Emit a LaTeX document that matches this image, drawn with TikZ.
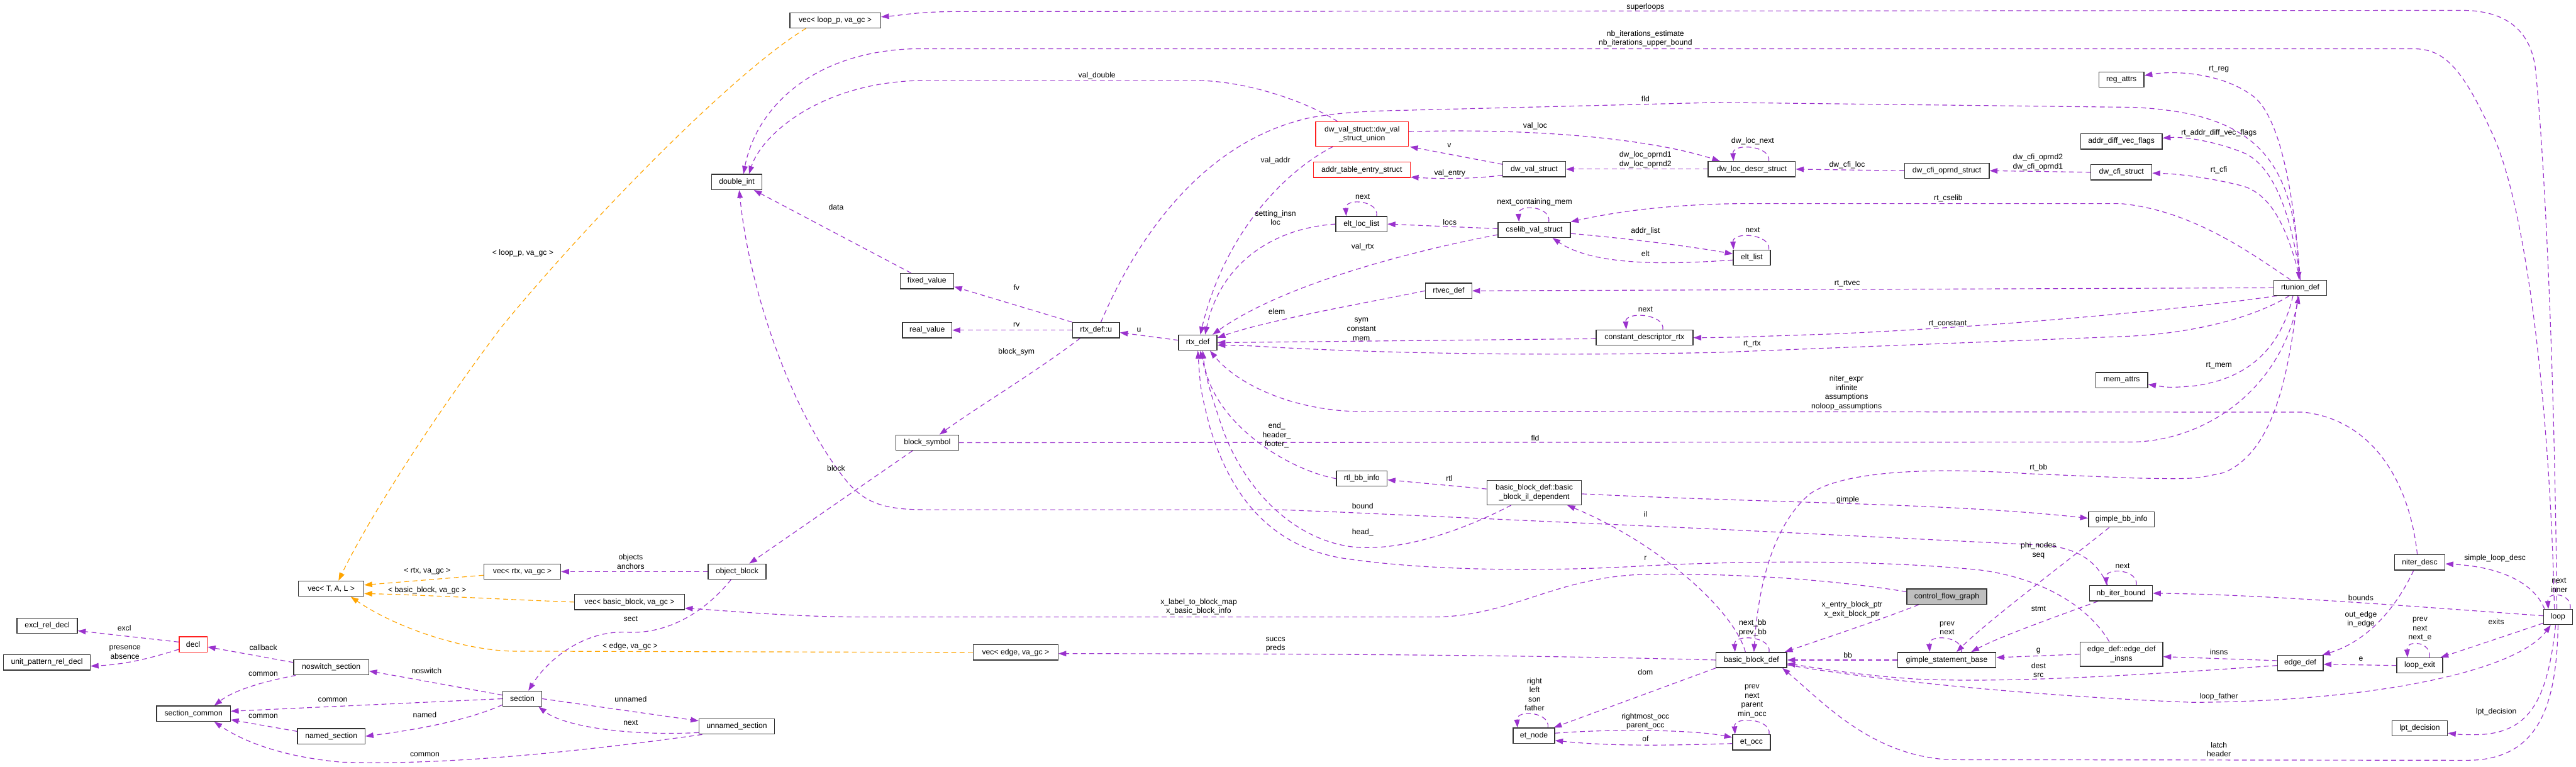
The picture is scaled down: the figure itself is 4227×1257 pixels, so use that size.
\documentclass[tikz,border=0pt]{standalone}
\usepackage{fontspec}
\setmainfont{Liberation Sans}
\usetikzlibrary{arrows.meta}
\pgfdeclarelayer{bg}
\pgfsetlayers{bg,main}
\definecolor{purp}{HTML}{9A32CD}
\definecolor{orng}{HTML}{FFA500}
\definecolor{redb}{HTML}{FF2020}
\definecolor{gfill}{HTML}{BFBFBF}
\definecolor{bord}{HTML}{333333}
\begin{document}
\begin{tikzpicture}[x=0.5pt,y=-0.5pt,
  cls/.style={draw=bord, line width=0.7pt, fill=white, inner sep=1pt, minimum height=12.5pt, font=\fontsize{6.3}{7.5}\selectfont, align=center},
  cls2/.style={cls, minimum height=20pt},
  redcls/.style={cls, draw=redb},
  lbl/.style={inner sep=0pt, font=\fontsize{6.3}{7.5}\selectfont, align=center},
  ed/.style={draw=purp, line width=0.6pt, dash pattern=on 4pt off 2.8pt, -{Triangle[length=6.5pt,width=4.5pt]}},
  eo/.style={ed, draw=orng},
]
\useasboundingbox (0,0) rectangle (4227,1257);
% ---------------- classes ----------------
\node[cls, minimum width=74.5pt] (vecloop) at (1370.5,33.5) {vec< loop\_p, va\_gc >};
\node[cls, minimum width=41pt] (dint) at (1209,298.5) {double\_int};
\node[cls, minimum width=44pt] (fixedv) at (1521,461) {fixed\_value};
\node[cls, minimum width=40.5pt] (realv) at (1521.5,541.5) {real\_value};
\node[cls, minimum width=38.5pt] (rtxu) at (1798.5,541.5) {rtx\_def::u};
\node[cls, minimum width=31.5pt] (rtx) at (1965.5,562) {rtx\_def};
\node[redcls, minimum width=76pt, minimum height=20pt] (uni) at (2235,220) {dw\_val\_struct::dw\_val\\\_struct\_union};
\node[redcls, minimum width=79.5pt] (addrtab) at (2234.5,278.5) {addr\_table\_entry\_struct};
\node[cls, minimum width=51.5pt] (dwval) at (2517.5,277.5) {dw\_val\_struct};
\node[cls, minimum width=71.5pt] (dwloc) at (2874.5,277.5) {dw\_loc\_descr\_struct};
\node[cls, minimum width=42pt] (eltloc) at (2234,367.5) {elt\_loc\_list};
\node[cls, minimum width=59.5pt] (cselib) at (2517.5,377) {cselib\_val\_struct};
\node[cls, minimum width=38pt] (rtvec) at (2377,477) {rtvec\_def};
\node[cls, minimum width=79.5pt] (cdrtx) at (2698.5,553.5) {constant\_descriptor\_rtx};
\node[cls, minimum width=37pt] (regattrs) at (3481,130.5) {reg\_attrs};
\node[cls, minimum width=67pt] (adv) at (3481,232) {addr\_diff\_vec\_flags};
\node[cls, minimum width=69.5pt] (cfiop) at (3194.5,280) {dw\_cfi\_oprnd\_struct};
\node[cls, minimum width=50pt] (cfi) at (3481,282.5) {dw\_cfi\_struct};
\node[cls, minimum width=30.5pt] (eltlist) at (2874.5,422.5) {elt\_list};
\node[cls, minimum width=42.5pt] (memattrs) at (3481.5,623.5) {mem\_attrs};
\node[cls, minimum width=43.5pt] (rtunion) at (3774.5,472) {rtunion\_def};
\node[cls, minimum width=53.5pt] (vecT) at (543.5,965.5) {vec< T, A, L >};
\node[cls, minimum width=49.5pt] (excl) at (77.5,1026.5) {excl\_rel\_decl};
\node[cls, minimum width=71pt] (upr) at (77,1086.5) {unit\_pattern\_rel\_decl};
\node[redcls, minimum width=23pt] (decl) at (317,1057) {decl};
\node[cls, minimum width=61.5pt] (noswitch) at (543.5,1094.5) {noswitch\_section};
\node[cls, minimum width=60.5pt] (seccommon) at (317.5,1170.5) {section\_common};
\node[cls, minimum width=55.5pt] (named) at (543.5,1207.5) {named\_section};
\node[cls, minimum width=63pt] (vecrtx) at (857,937.5) {vec< rtx, va\_gc >};
\node[cls, minimum width=47.5pt] (objblock) at (1209.5,937.5) {object\_block};
\node[cls, minimum width=90pt] (vecbb) at (1033,987.5) {vec< basic\_block, va\_gc >};
\node[cls, minimum width=32pt] (sect) at (857,1146) {section};
\node[cls, minimum width=62pt] (unnamed) at (1209,1191.5) {unnamed\_section};
\node[cls, minimum width=51.5pt] (blocksym) at (1521.5,726) {block\_symbol};
\node[cls, minimum width=69.5pt] (vecedge) at (1666.5,1070) {vec< edge, va\_gc >};
\node[cls, minimum width=41.5pt] (rtlbb) at (2234.5,785) {rtl\_bb\_info};
\node[cls2, minimum width=77.5pt] (bbil) at (2517.5,808) {basic\_block\_def::basic\\\_block\_il\_dependent};
\node[cls, minimum width=34pt] (etnode) at (2517,1206.5) {et\_node};
\node[cls, minimum width=65.5pt, fill=gfill] (cfg) at (3194.5,978.5) {control\_flow\_graph};
\node[cls, minimum width=58pt] (bb) at (2874,1082.5) {basic\_block\_def};
\node[cls, minimum width=80.5pt] (gsb) at (3194.5,1082.5) {gimple\_statement\_base};
\node[cls, minimum width=54pt] (gbbinfo) at (3481,852) {gimple\_bb\_info};
\node[cls, minimum width=51.5pt] (nbiter) at (3480.5,973) {nb\_iter\_bound};
\node[cls2, minimum width=68pt] (edgeins) at (3481,1073) {edge\_def::edge\_def\\\_insns};
\node[cls, minimum width=31pt] (etocc) at (2874,1217.5) {et\_occ};
\node[cls, minimum width=41.5pt] (niter) at (3970.5,922.5) {niter\_desc};
\node[cls, minimum width=23.5pt] (lp) at (4197.5,1012) {loop};
\node[cls, minimum width=37.5pt] (edgedef) at (3774.5,1087.5) {edge\_def};
\node[cls, minimum width=37.5pt] (loopexit) at (3970.5,1091.5) {loop\_exit};
\node[cls, minimum width=45.5pt] (lpt) at (3970.5,1194.5) {lpt\_decision};
% ---------------- connectors ----------------
\begin{pgfonlayer}{bg}
\fill[white] (0,0) rectangle (4227,1257);
% orange template edges
\draw[eo] ([xshift=-24pt]vecloop.south) .. controls (1200,120) and (950,380) .. (820,540) .. controls (700,700) and (600,860) .. ([xshift=6pt]vecT.north);
\draw[eo] ([yshift=-3pt]vecrtx.west) -- ([yshift=3pt]vecT.east);
\draw[eo] (vecbb.west) .. controls (800,982) and (700,976) .. ([yshift=-4pt]vecT.east);
\draw[eo] (vecedge.west) -- (840,1068) .. controls (760,1066) and (650,1030) .. ([xshift=16pt]vecT.south);
% loop top edges
\draw[ed] ([xshift=-1pt]lp.north) .. controls (4192,600) and (4175,250) .. (4160,110) .. controls (4150,40) and (4100,17) .. (4040,17) -- (1560,19) .. controls (1500,20) and (1480,25) .. (vecloop);
\draw[ed] ([xshift=-3pt]lp.north) .. controls (4185,700) and (4150,350) .. (4090,220) .. controls (4040,110) and (4010,80) .. (3960,80) -- (1500,80) .. controls (1330,85) and (1240,180) .. ([xshift=5.5pt]dint.north);
% double_int
\draw[ed] ([xshift=-20pt]uni.north) .. controls (2150,170) and (2050,132) .. (1960,132) -- (1520,132) .. controls (1350,132) and (1250,220) .. ([xshift=10pt]dint.north);
\draw[ed] ([xshift=-13pt]fixedv.north) -- ([xshift=14pt]dint.south);
\draw[ed] ([xshift=-11pt]nbiter.north) .. controls (3440,920) and (3410,898) .. (3350,894) -- (2820,868) -- (2200,840) .. controls (2150,837) .. (2100,836) -- (1520,836) .. controls (1450,836) and (1420,825) .. (1390,790) .. controls (1300,680) and (1230,480) .. ([xshift=2pt]dint.south);
% block symbol / object block
\draw[ed] ([xshift=-12pt]blocksym.south) -- ([xshift=10pt]objblock.north);
\draw[ed] (blocksym.east) -- (3500,725) .. controls (3620,722) and (3740,640) .. ([xshift=-1pt]rtunion.south);
\draw[ed] ([xshift=4pt]rtxu.north) .. controls (1870,380) and (1980,230) .. (2150,193) .. controls (2200,184) and (2250,182) .. (2300,181) -- (2820,168) -- (3500,176) .. controls (3700,185) and (3765,260) .. ([xshift=-1pt]rtunion.north);
% rtunion_def members
\draw[ed] (rtunion.north) .. controls (3765,330) and (3745,200) .. (3700,160) .. controls (3650,120) and (3570,115) .. (regattrs);
\draw[ed] (rtunion.north) .. controls (3760,350) and (3730,270) .. (3680,250) .. controls (3630,230) and (3580,224) .. (adv);
\draw[ed] (rtunion.north) .. controls (3755,380) and (3730,320) .. (3680,305) .. controls (3620,290) and (3570,285) .. (cfi);
\draw[ed] ([xshift=-8pt]rtunion.north) .. controls (3700,420) and (3600,345) .. (3480,334) -- (2850,334) .. controls (2720,336) and (2640,350) .. (cselib);
\draw[ed] (rtunion.west) -- (rtvec.east);
\draw[ed] ([xshift=3pt]rtunion.south west) .. controls (3600,505) and (3300,535) .. (3000,548) -- (2850,553) .. controls (2820,554) .. (cdrtx);
\draw[ed] ([xshift=-9pt]rtunion.south) .. controls (3700,520) and (3600,548) .. (3480,552) -- (2820,578) .. controls (2500,585) and (2250,578) .. (2100,570) .. controls (2050,567) .. ([yshift=-2pt]rtx.east);
\draw[ed] ([xshift=-6pt]rtunion.south) .. controls (3745,560) and (3700,620) .. (3600,633) .. controls (3560,636) .. (memattrs);
\draw[ed] ([xshift=-2pt]rtunion.south) .. controls (3755,620) and (3730,740) .. (3650,775) .. controls (3600,786) .. (3500,784) -- (3330,777) .. controls (3150,765) and (3020,775) .. (2970,810) .. controls (2910,860) and (2885,960) .. ([xshift=2pt]bb.north);
% rtx_def and rtx_def::u
\draw[ed] ([yshift=2pt]rtx.west) -- ([yshift=-2pt]rtxu.east);
\draw[ed] (rtxu.north west) -- ([yshift=2pt]fixedv.south east);
\draw[ed] (rtxu.west) -- (realv.east);
\draw[ed] ([xshift=-13pt]rtxu.south) .. controls (1700,610) and (1600,670) .. ([xshift=10pt]blocksym.north);
\draw[ed] (rtvec.west) .. controls (2250,495) and (2080,525) .. ([yshift=4pt]rtx.east);
\draw[ed] ([yshift=-4pt]cselib.west) .. controls (2300,415) and (2100,470) .. ([xshift=-4pt]rtx.north east);
\draw[ed] (eltloc.west) .. controls (2080,375) and (2000,440) .. ([xshift=6pt]rtx.north);
\draw[ed] ([xshift=-24pt]uni.south) .. controls (2110,280) and (2010,380) .. ([xshift=2pt]rtx.north);
\draw[ed] ([yshift=-1pt]cdrtx.west) -- (rtx.east);
\draw[ed] (rtlbb.west) .. controls (2110,770) and (1985,690) .. ([xshift=4pt]rtx.south);
\draw[ed] ([xshift=-19pt]bbil.south) .. controls (2400,870) and (2300,905) .. (2220,897) .. controls (2120,885) and (2040,800) .. (2005,700) .. controls (1985,640) .. ([xshift=2pt]rtx.south);
\draw[ed] ([xshift=-10pt]edgeins.north) .. controls (3430,1000) and (3360,950) .. (3250,935) .. controls (3100,920) and (2900,918) .. (2700,928) .. controls (2550,937) and (2350,938) .. (2200,915) .. controls (2060,890) and (2010,780) .. (1985,700) .. controls (1970,640) .. (rtx.south);
\draw[ed] ([xshift=-2pt]niter.north) .. controls (3955,800) and (3900,690) .. (3780,676) -- (2230,675) .. controls (2120,673) and (2030,630) .. ([xshift=10pt]rtx.south);
% dwarf structures
\draw[ed] ([yshift=4pt]dwval.west) -- ([xshift=1pt]uni.south east);
\draw[ed] ([yshift=-5pt]dwval.west) .. controls (2420,293) and (2370,294) .. ([yshift=-6pt]addrtab.east);
\draw[ed] ([yshift=2pt]uni.east) .. controls (2500,210) and (2700,225) .. ([xshift=10pt]dwloc.north west);
\draw[ed] (dwloc.west) -- (dwval.east);
\draw[ed] (cfiop.west) -- (dwloc.east);
\draw[ed] (cfi.west) -- (cfiop.east);
% cselib
\draw[ed] ([yshift=1pt]cselib.west) -- (eltloc.east);
\draw[ed] ([yshift=-3pt]cselib.east) .. controls (2680,392) and (2780,405) .. ([yshift=3pt]eltlist.west);
\draw[ed] ([yshift=-2pt]eltlist.west) .. controls (2760,432) and (2620,440) .. ([xshift=15pt]cselib.south);
% object block / sections
\draw[ed] (objblock.west) -- (vecrtx.east);
\draw[ed] ([xshift=-5pt]objblock.south) .. controls (1160,1000) and (1100,1040) .. (1030,1037) .. controls (960,1033) and (900,1080) .. ([xshift=5pt]sect.north);
\draw[ed] ([yshift=3pt]sect.west) -- ([yshift=-3pt]noswitch.east);
\draw[ed] (sect.west) -- ([yshift=2pt]seccommon.east);
\draw[ed] ([yshift=-5pt]sect.west) .. controls (760,1185) and (660,1200) .. (named.east);
\draw[ed] (sect.east) -- ([yshift=-2pt]unnamed.north west);
\draw[ed] ([yshift=-5pt]unnamed.west) .. controls (1050,1207) and (930,1195) .. ([xshift=-3pt]sect.south east);
\draw[ed] ([xshift=3pt]unnamed.south west) .. controls (900,1240) and (700,1255) .. (560,1250) .. controls (450,1240) and (390,1210) .. ([xshift=17pt]seccommon.south);
\draw[ed] ([yshift=4pt]noswitch.west) -- ([yshift=-2pt]decl.east);
\draw[ed] ([xshift=2pt]noswitch.south west) .. controls (420,1120) and (380,1135) .. ([xshift=17pt]seccommon.north);
\draw[ed] ([yshift=4pt]named.west) -- ([yshift=-5pt]seccommon.east);
\draw[ed] ([yshift=2pt]decl.west) -- ([yshift=-4pt]excl.east);
\draw[ed] ([yshift=-4pt]decl.west) .. controls (240,1082) and (200,1090) .. ([yshift=-3pt]upr.east);
% basic blocks
\draw[ed] ([xshift=-23pt]cfg.south) .. controls (3090,1015) and (3000,1045) .. ([xshift=-2pt]bb.north east);
\draw[ed] ([yshift=4pt]cfg.west) .. controls (3000,950) and (2850,940) .. (2700,942) .. controls (2550,946) and (2480,1012) .. (2350,1012) -- (1420,1012) .. controls (1300,1012) and (1200,1002) .. ([yshift=-5pt]vecbb.east);
\draw[ed] ([xshift=-5pt]bb.north) .. controls (2845,1000) and (2720,890) .. ([xshift=-12pt]bbil.south east);
\draw[ed] (bb.south west) -- ([xshift=-1pt]etnode.north east);
\draw[ed] (bb.west) .. controls (2500,1074) and (2100,1072) .. ([yshift=-1pt]vecedge.east);
\draw[ed] (gsb.west) -- (bb.east);
\draw[ed] ([yshift=-2pt]edgedef.west) .. controls (3500,1108) and (3300,1120) .. (3150,1114) .. controls (3050,1108) and (2980,1095) .. ([yshift=-3pt]bb.east);
\draw[ed] ([yshift=-4pt]bb.east) .. controls (3100,1120) and (3400,1145) .. (3600,1152) .. controls (3900,1150) and (4130,1100) .. ([xshift=-6pt]lp.south);
\draw[ed] (lp.south) .. controls (4195,1150) and (4170,1246) .. (4050,1247) -- (3200,1246) .. controls (3070,1240) and (2990,1150) .. ([xshift=-4pt]bb.south east);
\draw[ed] ([xshift=-2pt]lp.south) .. controls (4180,1150) and (4150,1205) .. (4060,1205) .. controls (4040,1205) .. ([yshift=-4pt]lpt.east);
\draw[ed] ([yshift=1pt]lp.west) .. controls (3900,990) and (3700,975) .. (nbiter.east);
\draw[ed] ([xshift=1pt]lp.north west) .. controls (4160,960) and (4110,930) .. (niter);
\draw[ed] ([yshift=-5pt]lp.west) .. controls (4120,1040) and (4060,1060) .. ([xshift=-2pt]loopexit.north east);
\draw[ed] ([xshift=-5pt]niter.south) .. controls (3935,990) and (3890,1050) .. ([xshift=-1pt]edgedef.north east);
\draw[ed] (loopexit.west) -- ([yshift=-1pt]edgedef.east);
\draw[ed] ([yshift=2pt]edgedef.west) -- ([yshift=-2pt]edgeins.east);
\draw[ed] (edgeins.west) -- ([yshift=2pt]gsb.east);
\draw[ed] ([xshift=-10pt]gbbinfo.south) .. controls (3380,930) and (3260,1020) .. ([xshift=8pt]gsb.north);
\draw[ed] ([xshift=-19pt]nbiter.south) .. controls (3350,1020) and (3280,1045) .. ([xshift=20pt]gsb.north);
\draw[ed] ([yshift=-1pt]bbil.east) .. controls (2900,825) and (3200,825) .. ([yshift=1pt]gbbinfo.west);
\draw[ed] ([yshift=3pt]bbil.west) -- ([yshift=-1pt]rtlbb.east);
\draw[ed] ([yshift=2pt]etnode.east) .. controls (2650,1195) and (2780,1197) .. ([yshift=4pt]etocc.west);
\draw[ed] ([yshift=-1pt]etocc.west) .. controls (2760,1222) and (2650,1225) .. ([yshift=-4pt]etnode.east);
% self loops
\draw[ed] ([xshift=12.5pt]eltloc.north) .. controls +(2pt,13pt) and +(-1pt,15pt) .. ([xshift=-12.5pt]eltloc.north);
\draw[ed] ([xshift=12pt]cselib.north) .. controls +(2pt,13pt) and +(-1pt,15pt) .. ([xshift=-12.5pt]cselib.north);
\draw[ed] ([xshift=15pt]cdrtx.north) .. controls +(2pt,13pt) and +(-1pt,15pt) .. ([xshift=-15pt]cdrtx.north);
\draw[ed] ([xshift=14pt]dwloc.north) .. controls +(2pt,13pt) and +(-1pt,15pt) .. ([xshift=-15pt]dwloc.north);
\draw[ed] ([xshift=14pt]eltlist.north) .. controls +(2pt,13pt) and +(-1pt,15pt) .. ([xshift=-15pt]eltlist.north);
\draw[ed] ([xshift=12.5pt]nbiter.north) .. controls +(2pt,13pt) and +(-1pt,15pt) .. ([xshift=-12pt]nbiter.north);
\draw[ed] ([xshift=12pt]gsb.north) .. controls +(2pt,13pt) and +(-1pt,15pt) .. ([xshift=-14pt]gsb.north);
\draw[ed] ([xshift=11.5pt]etnode.north) .. controls +(2pt,13pt) and +(-1pt,15pt) .. ([xshift=-13.5pt]etnode.north);
\draw[ed] ([xshift=14.5pt]etocc.north) .. controls +(2pt,13pt) and +(-1pt,15pt) .. ([xshift=-13.5pt]etocc.north);
\draw[ed] ([xshift=8pt]loopexit.north) .. controls +(2pt,13pt) and +(-1pt,15pt) .. ([xshift=-10pt]loopexit.north);
\draw[ed] ([xshift=10pt]lp.north) .. controls +(2pt,13pt) and +(-1pt,15pt) .. ([xshift=-8pt]lp.north);
\draw[ed] ([xshift=14.5pt]bb.north) .. controls +(2pt,13pt) and +(-1pt,15pt) .. ([xshift=-13.5pt]bb.north);
\end{pgfonlayer}
% ---------------- labels ----------------
\node[lbl] (t01) at (858,415) {< loop\_p, va\_gc >};
\node[lbl] (t02) at (1372,340) {data};
\node[lbl] (t03) at (1800,124) {val\_double};
\node[lbl] (t04) at (2700,12) {superloops};
\node[lbl] (t05) at (2700,63.5) {nb\_iterations\_estimate\\nb\_iterations\_upper\_bound};
\node[lbl] (t06) at (2700,162) {fld};
\node[lbl] (t07) at (2519,207) {val\_loc};
\node[lbl] (t08) at (2378,239) {v};
\node[lbl] (t09) at (2379,284) {val\_entry};
\node[lbl] (t10) at (2700,262) {dw\_loc\_oprnd1\\dw\_loc\_oprnd2};
\node[lbl] (t11) at (2876,231) {dw\_loc\_next};
\node[lbl] (t12) at (3031,271) {dw\_cfi\_loc};
\node[lbl] (t13) at (3344,266) {dw\_cfi\_oprnd2\\dw\_cfi\_oprnd1};
\node[lbl] (t14) at (3641,113) {rt\_reg};
\node[lbl] (t15) at (3641,218) {rt\_addr\_diff\_vec\_flags};
\node[lbl] (t16) at (3641,279) {rt\_cfi};
\node[lbl] (t17) at (2093,263) {val\_addr};
\node[lbl] (t18) at (2236,323) {next};
\node[lbl] (t19) at (2518,332) {next\_containing\_mem};
\node[lbl] (t20) at (2093,357) {setting\_insn\\loc};
\node[lbl] (t21) at (2379,364) {locs};
\node[lbl] (t22) at (3197,325) {rt\_cselib};
\node[lbl] (t23) at (2876,377) {next};
\node[lbl] (t24) at (2700,379) {addr\_list};
\node[lbl] (t25) at (2236,405) {val\_rtx};
\node[lbl] (t26) at (2700,416) {elt};
\node[lbl] (t27) at (3031,465) {rt\_rtvec};
\node[lbl] (t28) at (1668,472) {fv};
\node[lbl] (t29) at (2095,511) {elem};
\node[lbl] (t30) at (2700,507) {next};
\node[lbl] (t31) at (2234,540) {sym\\constant\\mem};
\node[lbl] (t32) at (3196,531) {rt\_constant};
\node[lbl] (t33) at (1668,533) {rv};
\node[lbl] (t34) at (1869,541) {u};
\node[lbl] (t35) at (2875,564) {rt\_rtx};
\node[lbl] (t36) at (1668,577) {block\_sym};
\node[lbl] (t37) at (3641,599) {rt\_mem};
\node[lbl] (t38) at (3030,644.5) {niter\_expr\\infinite\\assumptions\\noloop\_assumptions};
\node[lbl] (t39) at (2095,714) {end\_\\header\_\\footer\_};
\node[lbl] (t40) at (2519,718) {fld};
\node[lbl] (t41) at (1372,768) {block};
\node[lbl] (t42) at (3345,767) {rt\_bb};
\node[lbl] (t43) at (2378,784) {rtl};
\node[lbl] (t44) at (3032,820) {gimple};
\node[lbl] (t45) at (2236,830) {bound};
\node[lbl] (t46) at (2700,843) {il};
\node[lbl] (t47) at (2236,873) {head\_};
\node[lbl] (t48) at (3345,903) {phi\_nodes\\seq};
\node[lbl] (t49) at (2700,916) {r};
\node[lbl] (t50) at (1035,921) {objects\\anchors};
\node[lbl] (t51) at (701,937) {< rtx, va\_gc >};
\node[lbl] (t52) at (3483,928) {next};
\node[lbl] (t53) at (4094,916) {simple\_loop\_desc};
\node[lbl] (t54) at (4199,960) {next\\inner};
\node[lbl] (t55) at (701,968) {< basic\_block, va\_gc >};
\node[lbl] (t56) at (3874,980) {bounds};
\node[lbl] (t57) at (1967,995) {x\_label\_to\_block\_map\\x\_basic\_block\_info};
\node[lbl] (t58) at (3039,1000) {x\_entry\_block\_ptr\\x\_exit\_block\_ptr};
\node[lbl] (t59) at (3345,999) {stmt};
\node[lbl] (t60) at (1035,1015) {sect};
\node[lbl] (t61) at (3874,1016) {out\_edge\\in\_edge};
\node[lbl] (t62) at (3971,1032) {prev\\next\\next\_e};
\node[lbl] (t63) at (4096,1020) {exits};
\node[lbl] (t64) at (2876,1030) {next\_bb\\prev\_bb};
\node[lbl] (t65) at (3195,1030) {prev\\next};
\node[lbl] (t66) at (204,1030) {excl};
\node[lbl] (t67) at (2093,1057) {succs\\preds};
\node[lbl] (t68) at (1034,1060) {< edge, va\_gc >};
\node[lbl] (t69) at (432,1062) {callback};
\node[lbl] (t70) at (205,1070) {presence\\absence};
\node[lbl] (t71) at (3032,1074) {bb};
\node[lbl] (t72) at (3345,1068) {g};
\node[lbl] (t73) at (3641,1069) {insns};
\node[lbl] (t74) at (3874,1081) {e};
\node[lbl] (t75) at (3345,1099) {dest\\src};
\node[lbl] (t76) at (700,1100) {noswitch};
\node[lbl] (t77) at (2700,1102) {dom};
\node[lbl] (t78) at (432,1106) {common};
\node[lbl] (t79) at (2518,1139) {right\\left\\son\\father};
\node[lbl] (t80) at (2875,1150) {prev\\next\\parent\\min\_occ};
\node[lbl] (t81) at (3641,1143) {loop\_father};
\node[lbl] (t82) at (546,1148) {common};
\node[lbl] (t83) at (1035,1147) {unnamed};
\node[lbl] (t84) at (4096,1168) {lpt\_decision};
\node[lbl] (t85) at (697,1172) {named};
\node[lbl] (t86) at (432,1175) {common};
\node[lbl] (t87) at (2700,1183) {rightmost\_occ\\parent\_occ};
\node[lbl] (t88) at (1035,1185) {next};
\node[lbl] (t89) at (2700,1212) {of};
\node[lbl] (t90) at (3641,1229) {latch\\header};
\node[lbl] (t91) at (697,1238) {common};
\end{tikzpicture}
\end{document}
